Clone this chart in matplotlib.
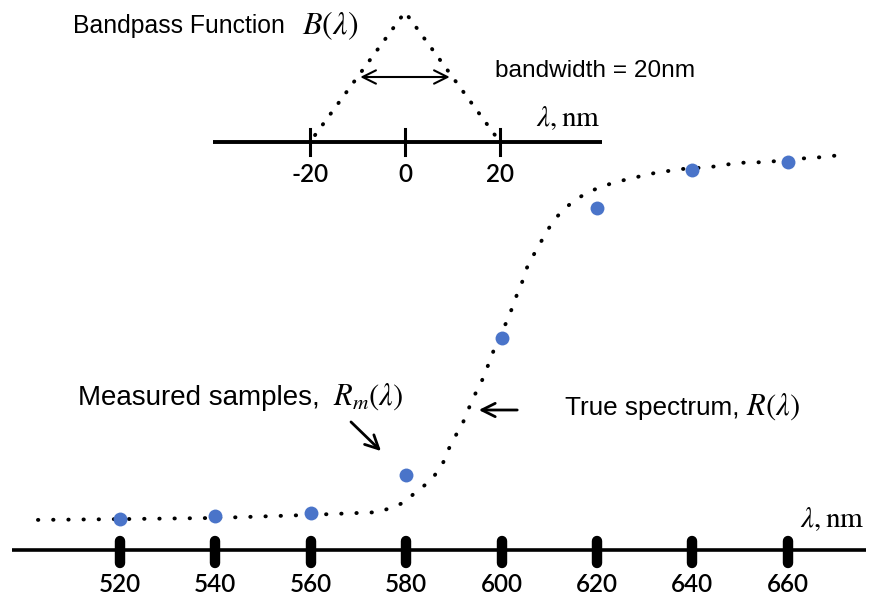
import matplotlib
matplotlib.use("Agg")
import matplotlib.pyplot as plt

plt.rcParams['mathtext.fontset'] = 'stix'

# measured samples R_m(lambda)
sample_nm = [520, 540, 560, 580, 600, 620, 640, 660]
sample_R = [0.080, 0.088, 0.096, 0.194, 0.549, 0.886, 0.984, 1.005]

# true spectrum R(lambda)
curve_nm = [502.8, 520, 540, 560, 574.1, 577.2, 579.7, 581.8, 583.9, 586.0,
            587.7, 588.8, 590.2, 591.7, 593.0, 594.0, 595.5, 597.6, 598.6,
            599.7, 601.1, 602.2, 603.2, 604.3, 605.3, 606.6, 608.1, 609.5,
            611.2, 613.1, 615.4, 617.9, 620.6, 623.4, 626.5, 632.2, 637.8,
            643.7, 649.6, 655.6, 661.5, 667.4, 670.9]
curve_R = [0.078, 0.080, 0.083, 0.091, 0.098, 0.111, 0.124, 0.148, 0.168, 0.194,
           0.225, 0.259, 0.293, 0.324, 0.363, 0.394, 0.427, 0.492, 0.526,
           0.562, 0.591, 0.627, 0.661, 0.694, 0.731, 0.762, 0.795, 0.826,
           0.858, 0.883, 0.907, 0.925, 0.940, 0.951, 0.961, 0.977, 0.987,
           0.992, 1.003, 1.005, 1.013, 1.018, 1.023]

main_ticks = [520, 540, 560, 580, 600, 620, 640, 660]

# bandpass function B(lambda)
band_nm = [-20, 0, 20]
band_B = [0, 1, 0]
band_ticks = [-20, 0, 20]
bandwidth = 20

W, H = 874, 599


def pos(px, py):
    # pixel position -> figure fraction
    return px / W, 1 - py / H


fig = plt.figure(figsize=(W / 100, H / 100), dpi=100)

# main plot
ax = fig.add_axes([0, 0, 1, 1])
ax.set_xlim(520 - 120 / 4.77, 520 + 754 / 4.77)
ax.set_ylim(-49 / 386, 550 / 386)
ax.axis('off')

ax.plot([497.4, 676.4], [0, 0], color='black', lw=2.6, solid_capstyle='butt')
for t in main_ticks:
    ax.plot([t, t], [0.023, -0.033], color='black', lw=7.5, solid_capstyle='round')
    ax.text(t, -0.109, str(t), ha='center', va='baseline', fontsize=17.5,
            family='Lato', weight='semibold')

ax.plot(curve_nm, curve_R, color='black', lw=2.8,
        linestyle=(0, (0.1, 3.8)), dash_capstyle='round')
ax.plot(sample_nm, sample_R, 'o', color='#4a74c9', ms=10, mec='none')

# bandpass inset
bx = fig.add_axes([0, 1 - 200 / H, 1, 200 / H])
bx.set_xlim(-405 / 4.75, 469 / 4.75)
bx.set_ylim(-58 / 130, 142 / 130)
bx.axis('off')

bx.plot([-40.4, 41.5], [0, 0], color='black', lw=2.8, solid_capstyle='butt')
for t in band_ticks:
    bx.plot([t, t], [0.1, -0.1], color='black', lw=2.2)
    bx.text(t, -0.31, str(t), ha='center', va='baseline', fontsize=17.5,
            family='Lato', weight='semibold')
bx.plot(band_nm, band_B, color='black', lw=2.8,
        linestyle=(1.2, (0.1, 3.3)), dash_capstyle='round')
bx.annotate('', xy=(-bandwidth / 2, 0.5), xytext=(bandwidth / 2, 0.5),
            arrowprops=dict(arrowstyle='<->', color='black', lw=1.5,
                            mutation_scale=24))

# labels
sans = 'Liberation Sans'
fig.text(*pos(73, 33), 'Bandpass Function', fontsize=17.8, family=sans,
         va='baseline')
fig.text(*pos(302, 34), r'$B(\lambda)$', fontsize=23, va='baseline')
fig.text(*pos(495, 77), 'bandwidth = 20nm', fontsize=17.6, family=sans,
         va='baseline')
fig.text(*pos(536, 126), r'$\lambda,\mathrm{nm}$', fontsize=21, va='baseline')
fig.text(*pos(800, 527), r'$\lambda,\mathrm{nm}$', fontsize=21, va='baseline')

fig.text(*pos(78, 405), 'Measured samples,', fontsize=20, family=sans,
         va='baseline')
fig.text(*pos(333, 405), r'$R_m(\lambda)$', fontsize=22, va='baseline')
fig.text(*pos(565, 415), 'True spectrum,', fontsize=18.8, family=sans,
         va='baseline')
fig.text(*pos(746, 415), r'$R(\lambda)$', fontsize=22, va='baseline')

fig.add_artist(matplotlib.patches.FancyArrowPatch(
    pos(349, 420), pos(383, 453), transform=fig.transFigure,
    arrowstyle='->', color='black', lw=2, mutation_scale=24))
fig.add_artist(matplotlib.patches.FancyArrowPatch(
    pos(520, 410), pos(476, 410), transform=fig.transFigure,
    arrowstyle='->', color='black', lw=2, mutation_scale=24))

fig.savefig('out.png', dpi=100)
